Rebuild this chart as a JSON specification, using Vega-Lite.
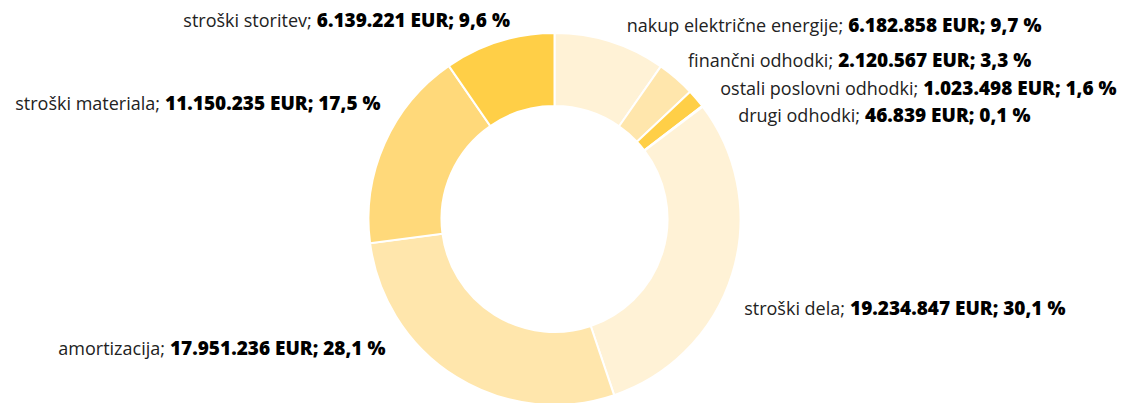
{
  "$schema": "https://vega.github.io/schema/vega-lite/v6.json",
  "autosize": {"type": "none"},
  "width": 1109,
  "height": 368,
  "padding": {"left": 0, "top": 35, "right": 16, "bottom": 0},
  "background": "#ffffff",
  "config": {"view": {"stroke": null}, "text": {"font": "Open Sans", "fontSize": 18, "baseline": "alphabetic"}},
  "data": {"values": [
    {"i": 1, "cat": "nakup električne energije", "head": "nakup električne energije;", "value": 6182858, "amount": "6.182.858 EUR; 9,7 %"},
    {"i": 2, "cat": "finančni odhodki", "head": "finančni odhodki;", "value": 2120567, "amount": "2.120.567 EUR; 3,3 %"},
    {"i": 3, "cat": "ostali poslovni odhodki", "head": "ostali poslovni odhodki;", "value": 1023498, "amount": "1.023.498 EUR; 1,6 %"},
    {"i": 4, "cat": "drugi odhodki", "head": "drugi odhodki;", "value": 46839, "amount": "46.839 EUR; 0,1 %"},
    {"i": 5, "cat": "stroški dela", "head": "stroški dela;", "value": 19234847, "amount": "19.234.847 EUR; 30,1 %"},
    {"i": 6, "cat": "amortizacija", "head": "amortizacija;", "value": 17951236, "amount": "17.951.236 EUR; 28,1 %"},
    {"i": 7, "cat": "stroški materiala", "head": "stroški materiala;", "value": 11150235, "amount": "11.150.235 EUR; 17,5 %"},
    {"i": 8, "cat": "stroški storitev", "head": "stroški storitev;", "value": 6139221, "amount": "6.139.221 EUR; 9,6 %"}
  ]},
  "encoding": {
    "theta": {"field": "value", "type": "quantitative", "stack": true},
    "order": {"field": "i", "type": "quantitative"},
    "detail": {"field": "cat", "type": "nominal"}
  },
  "layer": [
    {"mark": {"type": "arc", "outerRadius": 186, "innerRadius": 113, "stroke": "#ffffff", "strokeWidth": 2},
     "encoding": {"color": {"field": "cat", "type": "nominal", "legend": null,
       "scale": {"domain": ["nakup električne energije", "finančni odhodki", "ostali poslovni odhodki", "drugi odhodki", "stroški dela", "amortizacija", "stroški materiala", "stroški storitev"],
                 "range": ["#FFF2D6", "#FFE6AC", "#FFCF47", "#FFD97A", "#FFF2D6", "#FFE6AC", "#FFD97A", "#FFCF47"]}}}},

    {"mark": {"type": "text", "radius": 186, "align": "right", "dx": 233, "dy": -9.8, "color": "#222222"},
     "encoding": {"text": {"condition": {"test": "datum.i === 1", "field": "head"}, "value": ""}}},
    {"mark": {"type": "text", "radius": 186, "align": "left", "dx": 238, "dy": -9.8, "fontWeight": 800, "fontSize": 19, "color": "#000000"},
     "encoding": {"text": {"condition": {"test": "datum.i === 1", "field": "amount"}, "value": ""}}},

    {"mark": {"type": "text", "radius": 186, "align": "right", "dx": 157, "dy": -11.6, "color": "#222222"},
     "encoding": {"text": {"condition": {"test": "datum.i === 2", "field": "head"}, "value": ""}}},
    {"mark": {"type": "text", "radius": 186, "align": "left", "dx": 162, "dy": -11.6, "fontWeight": 800, "fontSize": 19, "color": "#000000"},
     "encoding": {"text": {"condition": {"test": "datum.i === 2", "field": "amount"}, "value": ""}}},

    {"mark": {"type": "text", "radius": 186, "align": "right", "dx": 222, "dy": -3.7, "color": "#222222"},
     "encoding": {"text": {"condition": {"test": "datum.i === 3", "field": "head"}, "value": ""}}},
    {"mark": {"type": "text", "radius": 186, "align": "left", "dx": 227, "dy": -3.7, "fontWeight": 800, "fontSize": 19, "color": "#000000"},
     "encoding": {"text": {"condition": {"test": "datum.i === 3", "field": "amount"}, "value": ""}}},

    {"mark": {"type": "text", "radius": 186, "align": "right", "dx": 157.5, "dy": 15.4, "color": "#222222"},
     "encoding": {"text": {"condition": {"test": "datum.i === 4", "field": "head"}, "value": ""}}},
    {"mark": {"type": "text", "radius": 186, "align": "left", "dx": 162.5, "dy": 15.4, "fontWeight": 800, "fontSize": 19, "color": "#000000"},
     "encoding": {"text": {"condition": {"test": "datum.i === 4", "field": "amount"}, "value": ""}}},

    {"mark": {"type": "text", "radius": 186, "align": "right", "dx": 112.7, "dy": 41.4, "color": "#222222"},
     "encoding": {"text": {"condition": {"test": "datum.i === 5", "field": "head"}, "value": ""}}},
    {"mark": {"type": "text", "radius": 186, "align": "left", "dx": 117.7, "dy": 41.4, "fontWeight": 800, "fontSize": 19, "color": "#000000"},
     "encoding": {"text": {"condition": {"test": "datum.i === 5", "field": "amount"}, "value": ""}}},

    {"mark": {"type": "text", "radius": 186, "align": "right", "dx": -291.2, "dy": -21.9, "color": "#222222"},
     "encoding": {"text": {"condition": {"test": "datum.i === 6", "field": "head"}, "value": ""}}},
    {"mark": {"type": "text", "radius": 186, "align": "left", "dx": -286.2, "dy": -21.9, "fontWeight": 800, "fontSize": 19, "color": "#000000"},
     "encoding": {"text": {"condition": {"test": "datum.i === 6", "field": "amount"}, "value": ""}}},

    {"mark": {"type": "text", "radius": 186, "align": "right", "dx": -224.5, "dy": -33.5, "color": "#222222"},
     "encoding": {"text": {"condition": {"test": "datum.i === 7", "field": "head"}, "value": ""}}},
    {"mark": {"type": "text", "radius": 186, "align": "left", "dx": -219.5, "dy": -33.5, "fontWeight": 800, "fontSize": 19, "color": "#000000"},
     "encoding": {"text": {"condition": {"test": "datum.i === 7", "field": "amount"}, "value": ""}}},

    {"mark": {"type": "text", "radius": 186, "align": "right", "dx": -187.4, "dy": -14.7, "color": "#222222"},
     "encoding": {"text": {"condition": {"test": "datum.i === 8", "field": "head"}, "value": ""}}},
    {"mark": {"type": "text", "radius": 186, "align": "left", "dx": -182.4, "dy": -14.7, "fontWeight": 800, "fontSize": 19, "color": "#000000"},
     "encoding": {"text": {"condition": {"test": "datum.i === 8", "field": "amount"}, "value": ""}}}
  ]
}
